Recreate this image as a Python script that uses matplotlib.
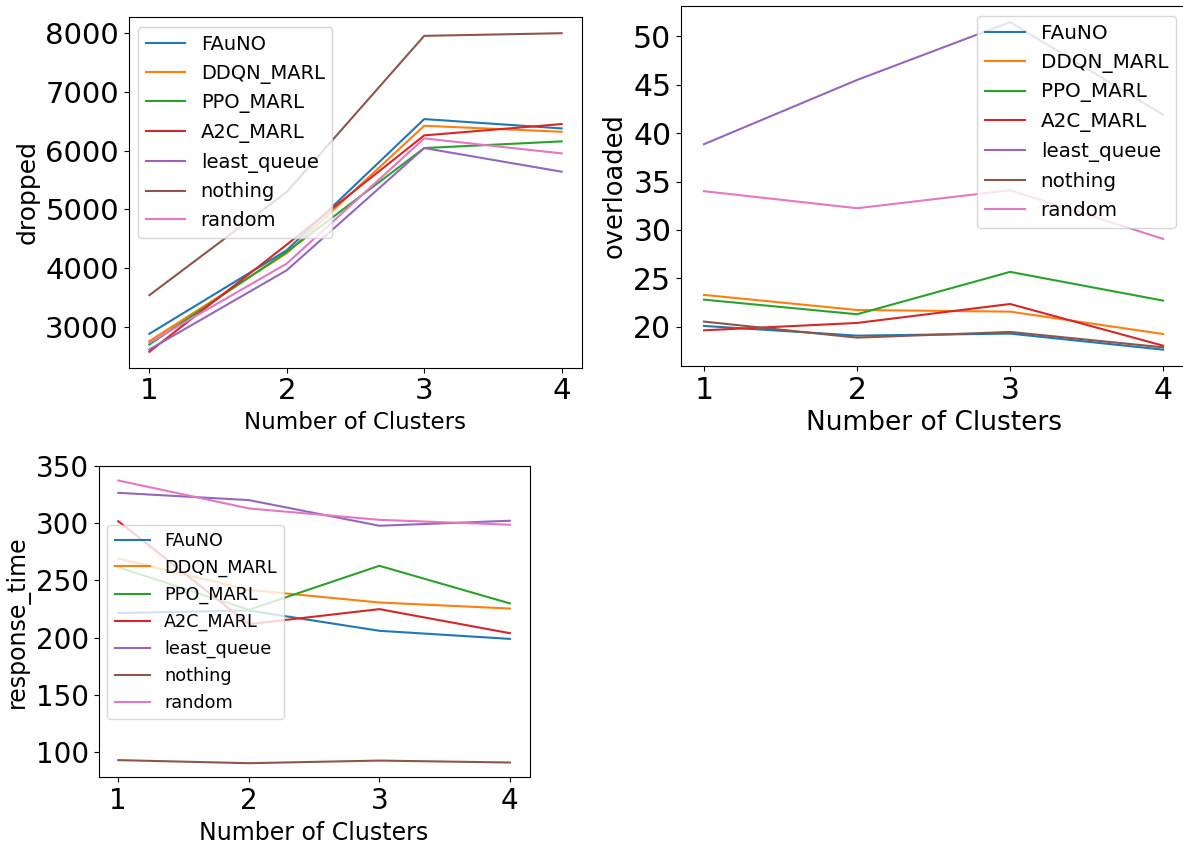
import numpy as np
import matplotlib
matplotlib.use("Agg")
import matplotlib.pyplot as plt
from matplotlib.ticker import MultipleLocator

clusters = [1, 2, 3, 4]
methods = ["FAuNO", "DDQN_MARL", "PPO_MARL", "A2C_MARL", "least_queue", "nothing", "random"]

# dropped
dropped_fauno = [2875, 4300, 6536, 6377]
dropped_ddqn = [2750, 4250, 6422, 6320]
dropped_ppo = [2693, 4271, 6042, 6156]
dropped_a2c = [2569, 4396, 6258, 6451]
dropped_least = [2608, 3959, 6042, 5639]
dropped_nothing = [3533, 5293, 7955, 8000]
dropped_random = [2722, 4073, 6207, 5951]

# overloaded
over_fauno = [20.07, 19.07, 19.28, 17.62]
over_ddqn = [23.28, 21.72, 21.55, 19.24]
over_ppo = [22.79, 21.28, 25.66, 22.69]
over_a2c = [19.62, 20.38, 22.34, 18.03]
over_least = [38.86, 45.5, 51.48, 41.9]
over_nothing = [20.52, 18.86, 19.45, 17.86]
over_random = [34.0, 32.24, 34.1, 29.07]

# response_time
resp_fauno = [221.4, 223.7, 205.9, 198.8]
resp_ddqn = [269.3, 241.8, 230.7, 225.4]
resp_ppo = [261.7, 224.3, 262.9, 229.9]
resp_a2c = [302.0, 211.7, 224.9, 203.8]
resp_least = [326.9, 320.5, 298.0, 302.4]
resp_nothing = [92.5, 89.8, 92.1, 90.4]
resp_random = [337.7, 313.2, 303.2, 298.9]

dropped = [dropped_fauno, dropped_ddqn, dropped_ppo, dropped_a2c,
           dropped_least, dropped_nothing, dropped_random]
overloaded = [over_fauno, over_ddqn, over_ppo, over_a2c,
              over_least, over_nothing, over_random]
response = [resp_fauno, resp_ddqn, resp_ppo, resp_a2c,
            resp_least, resp_nothing, resp_random]

fig = plt.figure(figsize=(11.83, 8.43), dpi=100)

ax1 = fig.add_axes([0.1088, 0.5638, 0.3834, 0.4157])
ax2 = fig.add_axes([0.5757, 0.5658, 0.4269, 0.4274])
ax3 = fig.add_axes([0.0834, 0.0779, 0.3642, 0.3689])

# ax, data, ylabel, legend loc, tick size, ylabel size, xlabel size, legend size, y step
panels = [
    (ax1, dropped, "dropped", "upper left", 21, 18, 16.5, 14, 1000),
    (ax2, overloaded, "overloaded", "upper right", 21.5, 18.5, 19, 14.3, 5),
    (ax3, response, "response_time", "center left", 20, 17, 17, 12.7, 50),
]

for ax, data, ylab, loc, tick_fs, ylab_fs, xlab_fs, leg_fs, step in panels:
    for name, vals in zip(methods, data):
        ax.plot(clusters, vals, label=name)
    ax.set_xticks(clusters)
    ax.yaxis.set_major_locator(MultipleLocator(step))
    ax.tick_params(labelsize=tick_fs)
    ax.set_xlabel("Number of Clusters", fontsize=xlab_fs)
    ax.set_ylabel(ylab, fontsize=ylab_fs)
    ax.legend(loc=loc, fontsize=leg_fs)

fig.savefig("out.png", dpi=100)
